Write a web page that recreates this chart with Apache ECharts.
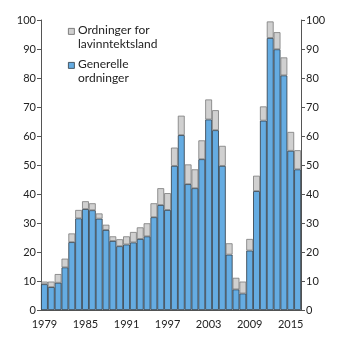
<!DOCTYPE html>
<html><head><meta charset="utf-8">
<script src="https://cdn.jsdelivr.net/npm/echarts@6/dist/echarts.min.js"></script>
<style>html,body{margin:0;padding:0;background:#fff}#c{width:345px;height:345px}</style>
</head><body><div id="c"></div>
<script>
const years = [];
for (let y = 1979; y <= 2016; y++) years.push(String(y));
const generelle = [8.9,7.9,9.4,14.7,23.4,31.6,34.8,34.4,31.5,27.6,23.8,22.0,22.6,23.3,24.5,25.4,32.0,36.2,34.5,49.7,60.3,43.4,42.0,52.0,65.7,62.0,49.7,19.1,7.1,5.7,20.5,41.0,65.3,93.8,89.9,80.9,54.9,48.5];
const totals = [9.8,9.8,12.4,17.7,26.4,34.5,37.5,36.8,33.3,29.4,25.4,24.4,25.4,26.9,28.5,29.9,36.8,42.0,40.3,56.0,67.0,50.2,48.5,58.5,72.6,68.9,56.6,23.0,11.1,9.8,24.5,46.3,70.2,99.5,95.8,87.1,61.4,55.1];
const lavinntekt = totals.map((t,i)=>Math.round((t-generelle[i])*10)/10);
const yTicks = [0,10,20,30,40,50,60,70,80,90,100];
const legendNames = ['Ordninger for\nlavinntektsland','Generelle\nordninger'];

const FONT = 'Lato';
const axisCol = '#333';
const chart = echarts.init(document.getElementById('c'), null, {renderer:'canvas'});
const yAxisBase = (pos)=>({
  type:'value', position:pos, min:yTicks[0], max:yTicks[yTicks.length-1], interval:10,
  axisLine:{show:true, lineStyle:{color:'#555', width:1}},
  axisTick:{show:true, length:4, lineStyle:{color:'#555'}},
  axisLabel:{color:'#222', fontFamily:FONT, fontSize:11, margin:5},
  splitLine:{show:false}
});
chart.setOption({
  animation:false,
  grid:{left:41, right:44, top:20, bottom:35, containLabel:false},
  xAxis:{type:'category', data:years,
    axisLine:{show:true, lineStyle:{color:'#555', width:1}},
    axisTick:{show:false},
    axisLabel:{interval:5, color:'#222', fontFamily:FONT, fontSize:11, margin:9}},
  yAxis:[yAxisBase('left'), yAxisBase('right')],
  series:[
    {name:'Generelle ordninger', type:'bar', stack:'s', data:generelle, barCategoryGap:0,
      itemStyle:{color:'#65ace2', borderColor:'#2f3a44', borderWidth:0.8}},
    {name:'Ordninger for lavinntektsland', type:'bar', stack:'s', data:lavinntekt, barCategoryGap:0,
      itemStyle:{color:'#d0d0d0', borderColor:'#7a7a7a', borderWidth:0.8}}
  ],
  graphic:[
    {type:'rect', left:68, top:28, shape:{width:6, height:6}, style:{fill:'#d0d0d0', stroke:'#666', lineWidth:0.8}},
    {type:'text', left:78, top:23, style:{text:legendNames[0], font:'12px '+FONT, fill:'#222', lineHeight:14}},
    {type:'rect', left:68, top:62, shape:{width:6, height:6}, style:{fill:'#65ace2', stroke:'#2f3a44', lineWidth:0.8}},
    {type:'text', left:78, top:57, style:{text:legendNames[1], font:'12px '+FONT, fill:'#222', lineHeight:14}}
  ]
});
</script></body></html>
